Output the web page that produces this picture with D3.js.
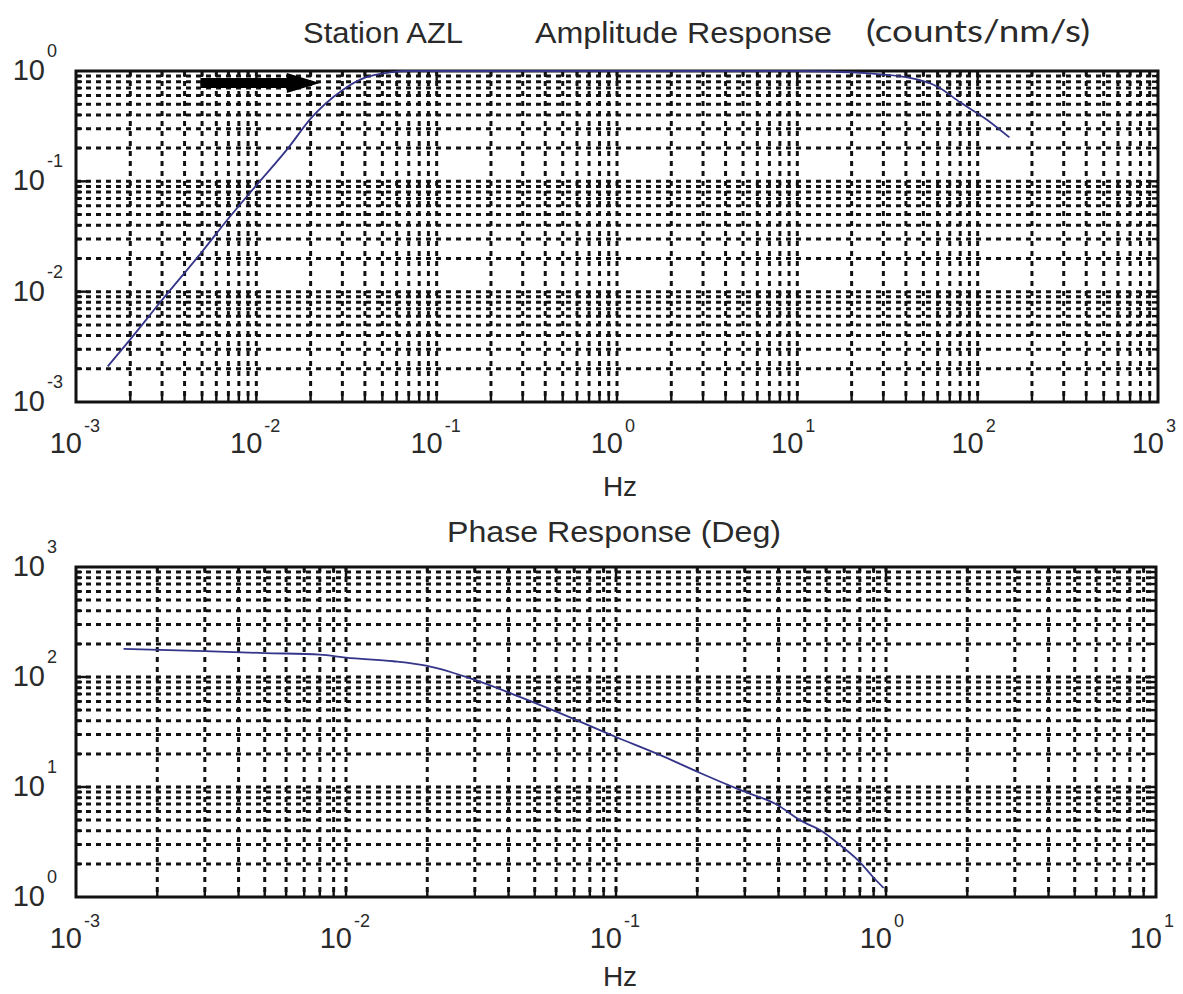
<!DOCTYPE html>
<html>
<head>
<meta charset="utf-8">
<script src="https://cdn.jsdelivr.net/npm/d3@7"></script>
<style>
  html, body { margin: 0; padding: 0; background: #fff; }
  svg { display: block; }
  .lbl { font-family: "Liberation Sans", Arial, sans-serif; fill: #2a2a2a; }
</style>
</head>
<body>
<svg id="chart" width="1183" height="994"></svg>
<script>
// Amplitude response of station AZL (counts/nm/s) versus frequency (Hz)
const ampFreq  = [0.0015, 0.002, 0.003, 0.005, 0.007, 0.01, 0.015, 0.02, 0.03, 0.04, 0.055, 0.07, 0.1, 1, 10, 15, 25, 40, 60, 80, 113, 150];
const ampValue = [0.0021, 0.0037, 0.0084, 0.023, 0.046, 0.092, 0.2, 0.37, 0.67, 0.87, 0.97, 1.0, 1.0, 1.0, 1.0, 0.99, 0.95, 0.88, 0.72, 0.52, 0.36, 0.25];

// Phase response (degrees) versus frequency (Hz)
const phaseFreq  = [0.0015, 0.003, 0.005, 0.008, 0.01, 0.015, 0.02, 0.03, 0.044, 0.062, 0.1, 0.146, 0.205, 0.288, 0.395, 0.48, 0.585, 0.676, 0.8, 0.895, 0.98];
const phaseValue = [180, 172, 165, 160, 150, 139, 126, 94, 66, 47, 28.5, 19.5, 13.4, 9.4, 6.9, 5.0, 3.9, 2.97, 2.08, 1.52, 1.21];

// Decade tick labels (exponents of 10)
const ampXExps   = [-3, -2, -1, 0, 1, 2, 3];
const ampYExps   = [-3, -2, -1, 0];
const phaseXExps = [-3, -2, -1, 0, 1];
const phaseYExps = [0, 1, 2, 3];

// Arrow annotation on the amplitude panel: [start Hz, tip Hz], amplitude level
const arrowFreq = [0.0049, 0.0225];
const arrowLevel = 0.78;

const svg = d3.select("#chart");
svg.append("rect").attr("width", 1183).attr("height", 994).attr("fill", "#fff");

const LINE_COLOR = "#343488";
const GRID_COLOR = "#111";

function panel(opts) {
  const { left, right, top, bottom, xDomain, yDomain, xExps, yExps, fx, fy, hzY } = opts;
  const x = d3.scaleLog().domain(xDomain).range([left, right]);
  const y = d3.scaleLog().domain(yDomain).range([bottom, top]);
  const g = svg.append("g");

  const isMajor = v => Math.abs(Math.log10(v) - Math.round(Math.log10(v))) < 1e-9;

  // dotted grid at every 1..9 multiple of each decade
  const xt = x.ticks().filter(v => v > xDomain[0] * 1.0001 && v < xDomain[1] * 0.9999);
  const yt = y.ticks().filter(v => v > yDomain[0] * 1.0001 && v < yDomain[1] * 0.9999);
  g.append("g").selectAll("line").data(yt).join("line")
    .attr("x1", left).attr("x2", right)
    .attr("y1", d => y(d)).attr("y2", d => y(d))
    .attr("stroke", GRID_COLOR).attr("stroke-width", 3)
    .attr("stroke-dasharray", "5,5");
  g.append("g").selectAll("line").data(xt).join("line")
    .attr("x1", d => x(d)).attr("x2", d => x(d))
    .attr("y1", top).attr("y2", bottom)
    .attr("stroke", GRID_COLOR).attr("stroke-width", 3)
    .attr("stroke-dasharray", "5,5");

  // inward tick marks on all four sides
  const tk = g.append("g").attr("stroke", "#111").attr("stroke-width", 2.4);
  xt.forEach(v => {
    const L = isMajor(v) ? 11 : 6;
    tk.append("line").attr("x1", x(v)).attr("x2", x(v)).attr("y1", bottom).attr("y2", bottom - L);
    tk.append("line").attr("x1", x(v)).attr("x2", x(v)).attr("y1", top).attr("y2", top + L);
  });
  yt.forEach(v => {
    const L = isMajor(v) ? 11 : 6;
    tk.append("line").attr("y1", y(v)).attr("y2", y(v)).attr("x1", left).attr("x2", left + L);
    tk.append("line").attr("y1", y(v)).attr("y2", y(v)).attr("x1", right).attr("x2", right - L);
  });

  // axes box
  g.append("rect")
    .attr("x", left).attr("y", top)
    .attr("width", right - left).attr("height", bottom - top)
    .attr("fill", "none").attr("stroke", "#111").attr("stroke-width", 3);

  // response curve, drawn over the box so it shows along the top edge
  g.append("path")
    .datum(d3.zip(fx, fy))
    .attr("fill", "none")
    .attr("stroke", LINE_COLOR)
    .attr("stroke-width", 1.8)
    .attr("d", d3.line().x(d => x(d[0])).y(d => y(d[1])).curve(d3.curveMonotoneX));

  // x tick labels: 10 with superscript exponent
  xExps.forEach(e => {
    const px = x(Math.pow(10, e));
    g.append("text").attr("class", "lbl").attr("x", px + 6).attr("y", bottom + 51)
      .attr("text-anchor", "end").attr("font-size", 29).text("10");
    g.append("text").attr("class", "lbl").attr("x", px + 8).attr("y", bottom + 30)
      .attr("text-anchor", "start").attr("font-size", 18).text(String(e));
  });
  // y tick labels
  yExps.forEach(e => {
    const py = y(Math.pow(10, e));
    g.append("text").attr("class", "lbl").attr("x", left - 31).attr("y", py + 9)
      .attr("text-anchor", "end").attr("font-size", 29).text("10");
    g.append("text").attr("class", "lbl").attr("x", left - 29).attr("y", py - 14)
      .attr("text-anchor", "start").attr("font-size", 18).text(String(e));
  });

  // x axis title
  g.append("text").attr("class", "lbl").attr("x", 620).attr("y", hzY)
    .attr("text-anchor", "middle").attr("font-size", 28).text("Hz");

  return { x, y, g };
}

// Amplitude panel
const amp = panel({
  left: 76, right: 1158, top: 71, bottom: 402, hzY: 496,
  xDomain: [1e-3, 1e3], yDomain: [1e-3, 1e0],
  xExps: ampXExps, yExps: ampYExps, fx: ampFreq, fy: ampValue
});

// Phase panel
const phs = panel({
  left: 76, right: 1156, top: 567, bottom: 897, hzY: 986,
  xDomain: [1e-3, 1e1], yDomain: [1e0, 1e3],
  xExps: phaseXExps, yExps: phaseYExps, fx: phaseFreq, fy: phaseValue
});

// Arrow on the amplitude panel
{
  const x0 = amp.x(arrowFreq[0]), x1 = amp.x(arrowFreq[1]), yc = amp.y(arrowLevel);
  const headLen = 33, shaftHalf = 5, headHalf = 10;
  const pts = [
    [x0, yc - shaftHalf], [x1 - headLen, yc - shaftHalf], [x1 - headLen, yc - headHalf],
    [x1, yc], [x1 - headLen, yc + headHalf], [x1 - headLen, yc + shaftHalf], [x0, yc + shaftHalf]
  ];
  svg.append("path").attr("d", d3.line()(pts) + "Z").attr("fill", "#000");
}

// Titles
svg.append("text").attr("class", "lbl").attr("x", 303).attr("y", 43)
  .attr("font-size", 29).attr("textLength", 160).attr("lengthAdjust", "spacingAndGlyphs")
  .text("Station AZL");
svg.append("text").attr("class", "lbl").attr("x", 535).attr("y", 43)
  .attr("font-size", 29).attr("textLength", 297).attr("lengthAdjust", "spacingAndGlyphs")
  .text("Amplitude Response");
svg.append("text").attr("x", 866).attr("y", 42)
  .attr("font-family", "Lato, 'Open Sans', sans-serif").attr("fill", "#2a2a2a")
  .attr("font-size", 31).attr("textLength", 224).attr("lengthAdjust", "spacingAndGlyphs")
  .text("(counts/nm/s)");
svg.append("text").attr("class", "lbl").attr("x", 447).attr("y", 542)
  .attr("font-size", 29).attr("textLength", 334).attr("lengthAdjust", "spacingAndGlyphs")
  .text("Phase Response (Deg)");
</script>
</body>
</html>
